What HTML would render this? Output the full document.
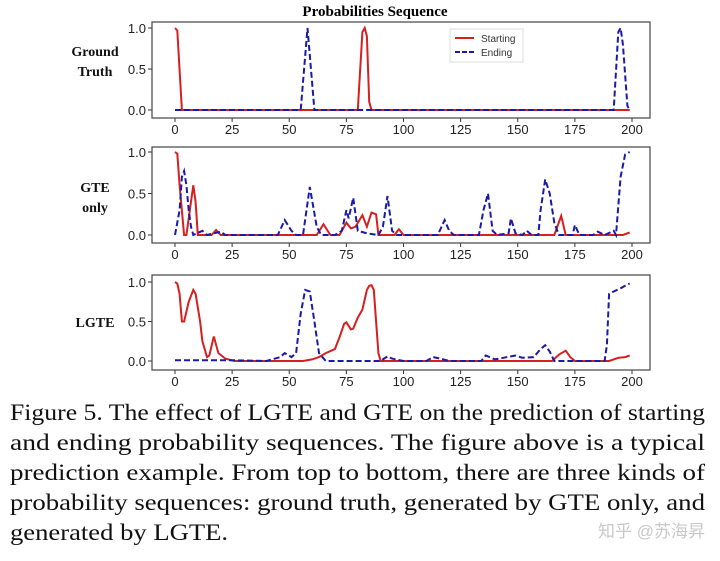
<!DOCTYPE html>
<html><head><meta charset="utf-8"><style>
html,body{margin:0;padding:0;background:#fff;}
svg{display:block;}
.tk{font-family:"Liberation Sans",sans-serif;font-size:13px;fill:#222;}
.rl{font-family:"Liberation Serif",serif;font-size:14px;font-weight:bold;fill:#111;}
.cap{font-family:"Liberation Serif",serif;font-size:23px;fill:#111;}
</style></head><body>
<svg id="fig" width="720" height="561" viewBox="0 0 720 561">
<text x="375" y="16" text-anchor="middle" font-family="Liberation Serif,serif" font-weight="bold" font-size="15">Probabilities Sequence</text>
<g id="panels"></g>
<g>
<text class="cap" x="10" y="420" textLength="695" lengthAdjust="spacingAndGlyphs">Figure 5. The effect of LGTE and GTE on the prediction of starting</text>
<text class="cap" x="10" y="450" textLength="695" lengthAdjust="spacingAndGlyphs">and ending probability sequences.  The figure above is a typical</text>
<text class="cap" x="10" y="480" textLength="695" lengthAdjust="spacingAndGlyphs">prediction example.  From top to bottom, there are three kinds of</text>
<text class="cap" x="10" y="510" textLength="695" lengthAdjust="spacingAndGlyphs">probability sequences: ground truth, generated by GTE only, and</text>
<text class="cap" x="10" y="540" textLength="218" lengthAdjust="spacingAndGlyphs">generated by LGTE.</text>
</g>
<text x="705" y="537" text-anchor="end" font-family="Liberation Sans,Noto Sans CJK SC,sans-serif" font-size="17" fill="#c8c8c8">知乎 @苏海昇</text>
</svg>
<script>
const xTicks=[0,25,50,75,100,125,150,175,200];
const yTicks=["0.0","0.5","1.0"];
const gtStartX=[0,1,3,80,82,83,84,85,86,199];
const gtStartY=[1,0.97,0,0,0.95,1,0.9,0.1,0,0];
const gtEndX=[0,55,58,61,192,194,195,196,198,199];
const gtEndY=[0,0,1,0,0,0.95,1,0.8,0.05,0];
const gteStartX=[0,1,2,4,5,7,8,9,10,16,18,20,62,65,68,72,75,77,79,82,84,86,88,89,96,98,100,166,169,171,196,199];
const gteStartY=[1,0.98,0.6,0,0,0.4,0.6,0.4,0,0,0.06,0,0,0.13,0,0,0.15,0.08,0.1,0.24,0.1,0.27,0.25,0,0,0.07,0,0,0.23,0,0,0.03];
const gteEndX=[0,2,3,4,5,6,7,8,12,14,20,22,45,48,51,53,56,59,62,64,70,73,75,76,78,80,84,89,91,93,95,97,115,118,120,122,133,135,137,139,141,146,147,149,152,154,156,159,160,162,164,166,168,174,175,177,183,185,188,192,193,195,197,199];
const gteEndY=[0,0.3,0.7,0.77,0.6,0.3,0.1,0,0.05,0,0.04,0,0,0.18,0.05,0,0,0.58,0.1,0,0,0.05,0.3,0.2,0.45,0.05,0.02,0,0.1,0.47,0.05,0,0,0.18,0.05,0,0,0.3,0.5,0.05,0,0.02,0.2,0.02,0,0.05,0,0,0.3,0.67,0.5,0.15,0,0,0.12,0,0,0.04,0,0.05,0,0.7,0.97,1];
const lgStartX=[0,1,2,3,4,6,8,9,11,12,14,15,17,19,22,26,56,60,63,66,70,72,74,75,77,78,80,82,84,85,86,87,89,90,165,168,171,173,175,190,194,197,199];
const lgStartY=[1,0.98,0.85,0.5,0.5,0.75,0.9,0.85,0.5,0.25,0.05,0.07,0.31,0.1,0.03,0,0,0.02,0.05,0.1,0.15,0.3,0.47,0.49,0.4,0.41,0.55,0.65,0.9,0.95,0.96,0.9,0.1,0,0,0.08,0.13,0.05,0,0,0.04,0.05,0.07];
const lgEndX=[0,25,40,46,48,51,53,55,57,59,61,63,66,90,93,95,100,110,113,116,120,134,136,140,149,152,157,160,162,164,166,188,189,190,192,195,198,199];
const lgEndY=[0.01,0.01,0,0.05,0.1,0.05,0.1,0.6,0.9,0.88,0.5,0.1,0,0,0.06,0.03,0,0,0.05,0.03,0,0,0.07,0.02,0.07,0.04,0.05,0.15,0.2,0.12,0,0,0.2,0.85,0.88,0.92,0.97,0.98];

const NS="http://www.w3.org/2000/svg";
const root=document.getElementById('panels');
function mk(tag,attrs,parent){const e=document.createElementNS(NS,tag);for(const k in attrs)e.setAttribute(k,attrs[k]);parent.appendChild(e);return e;}
const panels=[
 {top:22,bot:118,y1:28,y0:110,label:["Ground","Truth"],ly:[56,76],sx:gtStartX,sy:gtStartY,ex:gtEndX,ey:gtEndY,legend:true,name:'ground-truth'},
 {top:147,bot:243,y1:152,y0:235,label:["GTE","only"],ly:[192,212],sx:gteStartX,sy:gteStartY,ex:gteEndX,ey:gteEndY,name:'gte-only'},
 {top:275,bot:370,y1:282,y0:361,label:["LGTE"],ly:[327],sx:lgStartX,sy:lgStartY,ex:lgEndX,ey:lgEndY,name:'lgte'}
];
const L=152,R=650,X0=175,X200=632;
const xs=v=>X0+(X200-X0)*v/200;
panels.forEach(p=>{
 const g=mk('g',{},root);
 
 
 const ys=v=>p.y0+(p.y1-p.y0)*v;
 p.label.forEach((t,i)=>{const e=mk('text',{x:95,y:p.ly[i],'text-anchor':'middle',class:'rl'},g);e.textContent=t;
  });
 xTicks.forEach(t=>{mk('line',{x1:xs(t),x2:xs(t),y1:p.bot,y2:p.bot+4,stroke:'#333'},g);
  const e=mk('text',{x:xs(t),y:p.bot+16,'text-anchor':'middle',class:'tk'},g);e.textContent=t;
  });
 yTicks.forEach(t=>{const y=ys(parseFloat(t));mk('line',{x1:L-4,x2:L,y1:y,y2:y,stroke:'#333'},g);
  const e=mk('text',{x:L-6,y:y+5,'text-anchor':'end',class:'tk'},g);e.textContent=t;
  });
 const path=(X,Y)=>X.map((x,i)=>(i?'L':'M')+xs(x).toFixed(1)+','+ys(Y[i]).toFixed(1)).join('');
 const s=mk('path',{d:path(p.sx,p.sy),fill:'none',stroke:'#d62020','stroke-width':2},g);
 
 const e=mk('path',{d:path(p.ex,p.ey),fill:'none',stroke:'#1a1aa8','stroke-width':2,'stroke-dasharray':'6,3'},g);
 
 const b=mk('rect',{x:L,y:p.top,width:R-L,height:p.bot-p.top,fill:'none',stroke:'#444','stroke-width':1.2},g);
 
 if(p.legend){
  const lg=mk('g',{},g);
  
  mk('rect',{x:450,y:29,width:73,height:33,fill:'#fff',stroke:'#ddd'},lg);
  mk('line',{x1:455,x2:474,y1:38,y2:38,stroke:'#d62020','stroke-width':2},lg);
  mk('line',{x1:455,x2:474,y1:52,y2:52,stroke:'#1a1aa8','stroke-width':2,'stroke-dasharray':'5,2'},lg);
  const t1=mk('text',{x:481,y:42,'font-family':'Liberation Sans,sans-serif','font-size':10,fill:'#333'},lg);t1.textContent='Starting';
  
  const t2=mk('text',{x:481,y:56,'font-family':'Liberation Sans,sans-serif','font-size':10,fill:'#333'},lg);t2.textContent='Ending';
  
 }
});
</script>
</body></html>
